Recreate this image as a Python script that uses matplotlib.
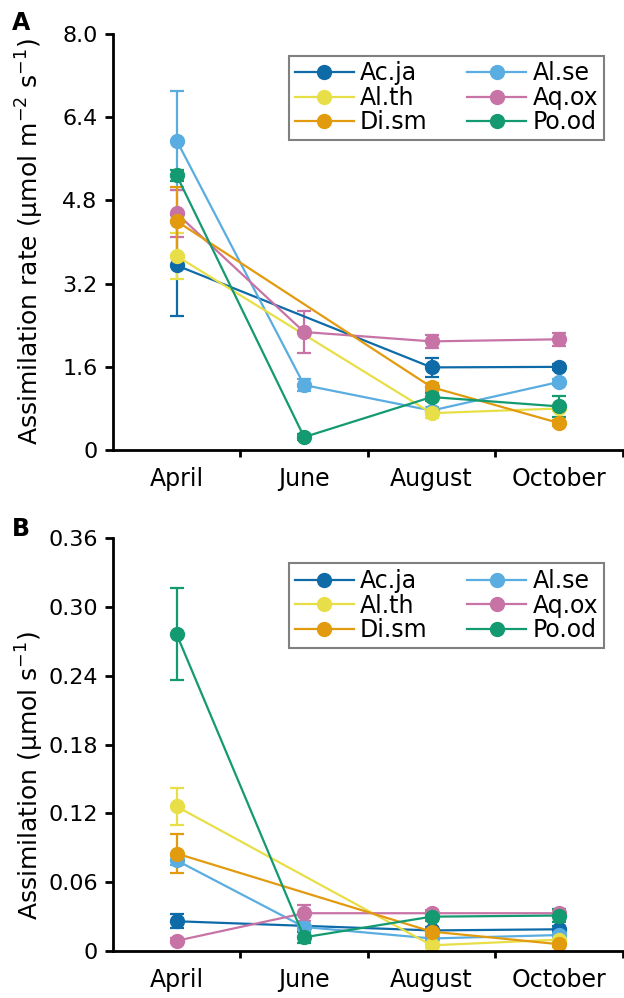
import numpy as np
import matplotlib
matplotlib.use('Agg')
import matplotlib.pyplot as plt
from matplotlib.lines import Line2D

plt.rcParams['font.family'] = ['DejaVu Sans']
plt.rcParams['mathtext.default'] = 'regular'

months = ['April', 'June', 'August', 'October']
species = ['Ac.ja', 'Al.se', 'Al.th', 'Aq.ox', 'Di.sm', 'Po.od']
colors = ['#0f6aa8', '#5aade0', '#e8df48', '#c873a6', '#e29a0e', '#139a70']

nan = np.nan

# panel A: assimilation rate (umol m-2 s-1), mean and error
rate_mean = {
    'Ac.ja': [3.55, nan, 1.59, 1.60],
    'Al.se': [5.95, 1.25, 0.76, 1.31],
    'Al.th': [3.73, nan, 0.71, 0.80],
    'Aq.ox': [4.55, 2.27, 2.09, 2.13],
    'Di.sm': [4.40, nan, 1.21, 0.52],
    'Po.od': [5.28, 0.25, 1.02, 0.84],
}
rate_err = {
    'Ac.ja': [0.97, nan, 0.18, 0.06],
    'Al.se': [0.95, 0.12, 0.06, 0.06],
    'Al.th': [0.45, nan, 0.10, 0.05],
    'Aq.ox': [0.45, 0.40, 0.12, 0.12],
    'Di.sm': [0.65, nan, 0.08, 0.06],
    'Po.od': [0.10, 0.06, 0.08, 0.20],
}

# panel B: assimilation (umol s-1), mean and error
assim_mean = {
    'Ac.ja': [0.026, nan, 0.018, 0.019],
    'Al.se': [0.079, 0.021, 0.011, 0.014],
    'Al.th': [0.126, nan, 0.005, 0.010],
    'Aq.ox': [0.009, 0.033, 0.033, 0.033],
    'Di.sm': [0.085, nan, 0.017, 0.006],
    'Po.od': [0.276, 0.012, 0.030, 0.031],
}
assim_err = {
    'Ac.ja': [0.006, nan, 0.003, 0.003],
    'Al.se': [0.004, 0.003, 0.002, 0.002],
    'Al.th': [0.016, nan, 0.002, 0.002],
    'Aq.ox': [0.002, 0.007, 0.003, 0.003],
    'Di.sm': [0.017, nan, 0.003, 0.002],
    'Po.od': [0.040, 0.005, 0.004, 0.006],
}

fig = plt.figure(figsize=(6.24, 9.98), dpi=100)
axA = fig.add_axes([0.181, 0.549, 0.817, 0.417])
axB = fig.add_axes([0.181, 0.047, 0.817, 0.414])


def draw_panel(ax, means, errs, ymax, yticks, yticklabels, ylabel, label_y, leg_top):
    x = np.arange(len(months)) + 0.5
    handles = {}
    for sp, c in zip(species, colors):
        m = np.array(means[sp])
        e = np.array(errs[sp])
        ok = ~np.isnan(m)
        ax.errorbar(x[ok], m[ok], yerr=e[ok], color=c, marker='o', markersize=10,
                    linewidth=1.6, elinewidth=1.6, capsize=5, capthick=1.6)
        handles[sp] = Line2D([], [], color=c, marker='o', markersize=10, linewidth=1.6)
    ax.set_xlim(0, 4)
    ax.set_ylim(0, ymax)
    ax.set_yticks(yticks)
    ax.set_yticklabels(yticklabels)
    ax.set_xticks(x)
    ax.set_xticklabels(months)
    ax.set_xticks([1, 2, 3, 4], minor=True)
    ax.tick_params(axis='x', which='major', length=0, pad=12, labelsize=17)
    ax.tick_params(axis='x', which='minor', length=5, width=2, direction='out')
    ax.tick_params(axis='y', length=6, width=2, direction='out', pad=5, labelsize=16)
    for s in ['top', 'right']:
        ax.spines[s].set_visible(False)
    for s in ['left', 'bottom']:
        ax.spines[s].set_linewidth(2)
    ax.set_ylabel(ylabel, fontsize=18, va='center')
    ax.yaxis.set_label_coords(-0.163, label_y)
    # row-wise legend order: Ac.ja Al.se / Al.th Aq.ox / Di.sm Po.od
    order = ['Ac.ja', 'Al.th', 'Di.sm', 'Al.se', 'Aq.ox', 'Po.od']
    leg = ax.legend([handles[s] for s in order], order, ncol=2, loc='upper right',
                    fontsize=17, frameon=True, fancybox=False, framealpha=1,
                    handlelength=2.5, handletextpad=0.25, columnspacing=1.7,
                    labelspacing=0.02, borderpad=0.25, borderaxespad=0,
                    bbox_to_anchor=(0.963, leg_top))
    leg.get_frame().set_edgecolor('#808080')
    leg.get_frame().set_linewidth(1.5)


draw_panel(axA, rate_mean, rate_err, 8.0, [0, 1.6, 3.2, 4.8, 6.4, 8.0],
           ['0', '1.6', '3.2', '4.8', '6.4', '8.0'],
           'Assimilation rate (μmol m$^{-2}$ s$^{-1}$)', 0.50, 0.948)
draw_panel(axB, assim_mean, assim_err, 0.36, [0, 0.06, 0.12, 0.18, 0.24, 0.30, 0.36],
           ['0', '0.06', '0.12', '0.18', '0.24', '0.30', '0.36'],
           'Assimilation (μmol s$^{-1}$)', 0.426, 0.939)

fig.text(0.019, 0.9765, 'A', fontsize=17, fontweight='bold', va='center')
fig.text(0.019, 0.470, 'B', fontsize=17, fontweight='bold', va='center')

fig.savefig('out.png', dpi=100)
